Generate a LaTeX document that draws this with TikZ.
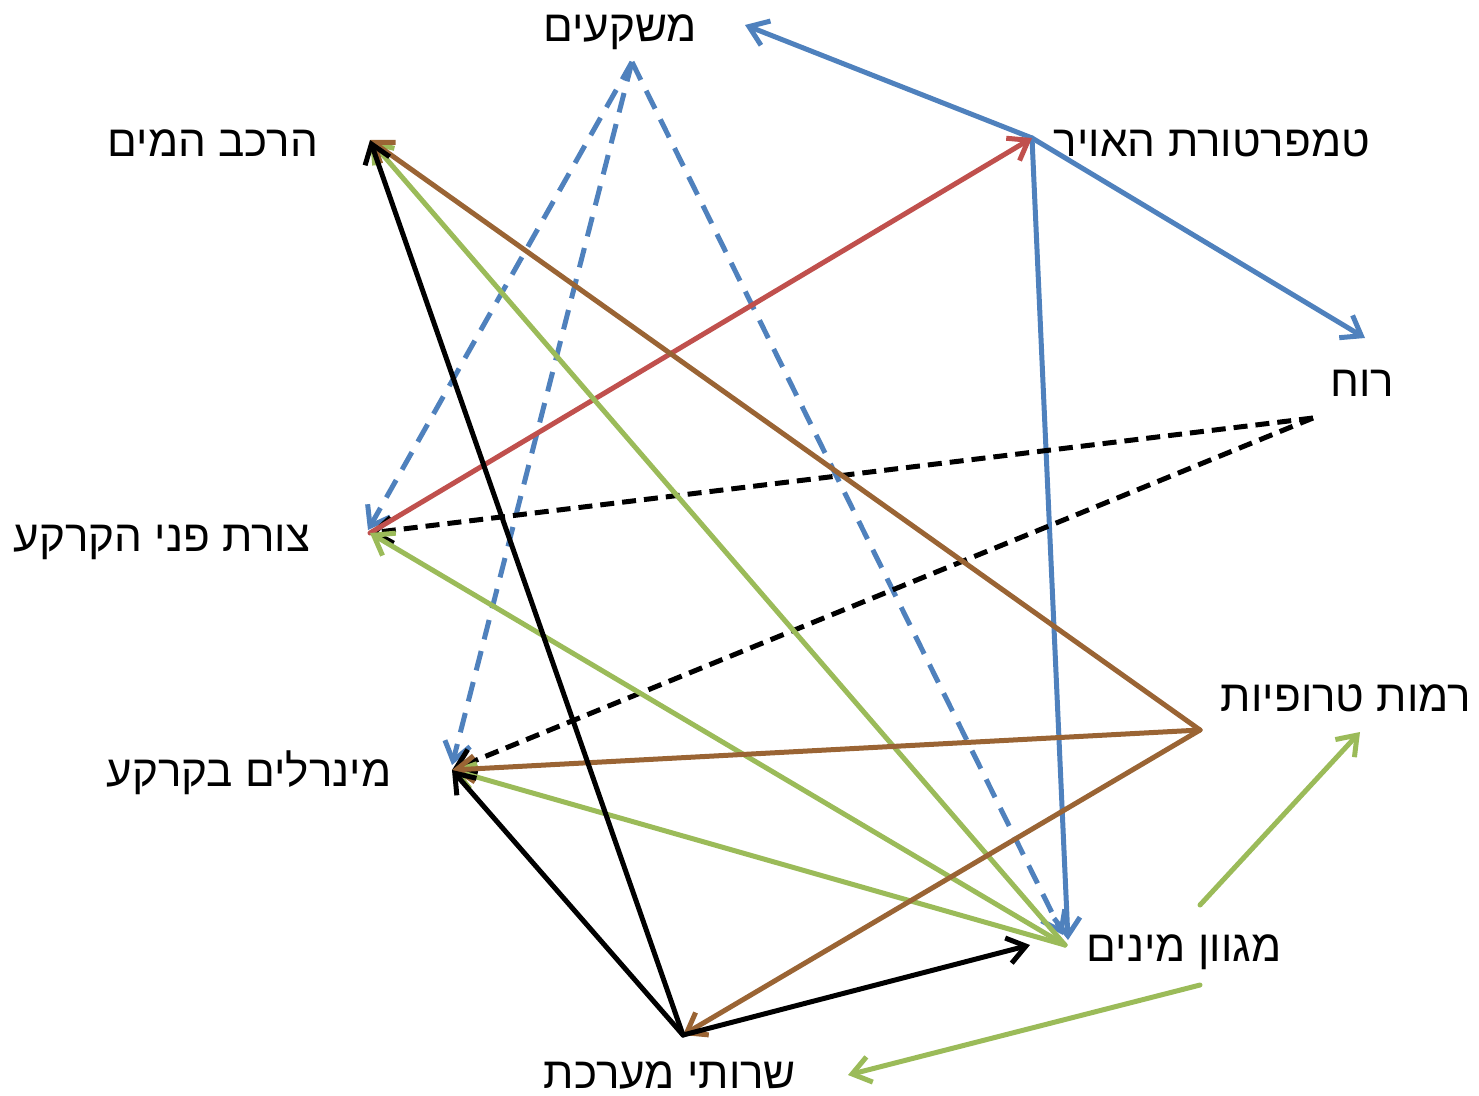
\documentclass[tikz,border=0pt]{standalone}
\usepackage{fontspec}
\newfontfamily\hebfont[Script=Hebrew]{Liberation Sans}
\TeXXeTstate=1
\usetikzlibrary{arrows.meta}
\definecolor{cblue}{HTML}{4F81BD}
\definecolor{cred}{HTML}{C0504D}
\definecolor{cgreen}{HTML}{9BBB59}
\definecolor{cbrown}{HTML}{9A6434}
\begin{document}
\begin{tikzpicture}[x=1pt,y=-1pt,
  lbl/.style={font=\hebfont\fontsize{44}{48}\selectfont, inner sep=0pt, anchor=base},
  conn/.style={line width=5pt, line cap=round, -{Straight Barb[length=18pt,width=26pt,line width=5pt]}},
  bluedash/.style={conn, cblue, line cap=butt, dash pattern=on 20pt off 12pt},
  blackdash/.style={conn, black, line cap=butt, dash pattern=on 14pt off 8pt}]
\useasboundingbox (0,0) rectangle (1479,1095);
% labels
\node[lbl] (precip) at (620,41) {\beginR משקעים\endR};
\node[lbl] (water) at (213,156) {\beginR הרכב המים\endR};
\node[lbl] (temp) at (1212,156) {\beginR טמפרטורת האויר\endR};
\node[lbl] (wind) at (1362,396) {\beginR רוח\endR};
\node[lbl] (land) at (162,551) {\beginR צורת פני הקרקע\endR};
\node[lbl] (troph) at (1346,711) {\beginR רמות טרופיות\endR};
\node[lbl] (minr) at (249,786) {\beginR מינרלים בקרקע\endR};
\node[lbl] (spec) at (1184,961) {\beginR מגוון מינים\endR};
\node[lbl] (serv) at (670,1088) {\beginR שרותי מערכת\endR};
% connection points
\coordinate (T) at (1032,138);
\coordinate (Pin) at (745,25);
\coordinate (Nin) at (1365,338);
\coordinate (Gin) at (1068,940);
\coordinate (L) at (370,533);
\coordinate (P) at (632,62);
\coordinate (Lp) at (368,530);
\coordinate (Mp) at (452,765);
\coordinate (Gp) at (1063,935);
\coordinate (W) at (370,140);
\coordinate (S) at (683,1035);
\coordinate (G) at (1065,945);
\coordinate (R) at (1200,730);
\coordinate (N) at (1313,418);
\coordinate (M) at (452,770);
\coordinate (Gs) at (1030,945);
\coordinate (G2a) at (1200,905);
\coordinate (R2) at (1360,732);
\coordinate (G3a) at (1200,985);
\coordinate (S2) at (848,1075);
% blue solid
\draw[conn, cblue] (T) -- (Pin);
\draw[conn, cblue] (T) -- (Nin);
\draw[conn, cblue] (T) -- (Gin);
% blue dashed
\draw[bluedash] (P) -- (Lp);
\draw[bluedash] (P) -- (Mp);
\draw[bluedash] (P) -- (Gp);
% black dashed
\draw[blackdash] (N) -- (L);
\draw[blackdash] (N) -- (M);
% red
\draw[conn, cred] (L) -- (T);
% green
\draw[conn, cgreen] (G) -- (W);
\draw[conn, cgreen] (G) -- (L);
\draw[conn, cgreen] (G) -- (M);
\draw[conn, cgreen] (G2a) -- (R2);
\draw[conn, cgreen] (G3a) -- (S2);
% brown
\draw[conn, cbrown] (R) -- (W);
\draw[conn, cbrown] (R) -- (M);
\draw[conn, cbrown] (R) -- (S);
% black
\draw[conn, black] (S) -- (W);
\draw[conn, black] (S) -- (M);
\draw[conn, black] (S) -- (Gs);
\end{tikzpicture}
\end{document}
